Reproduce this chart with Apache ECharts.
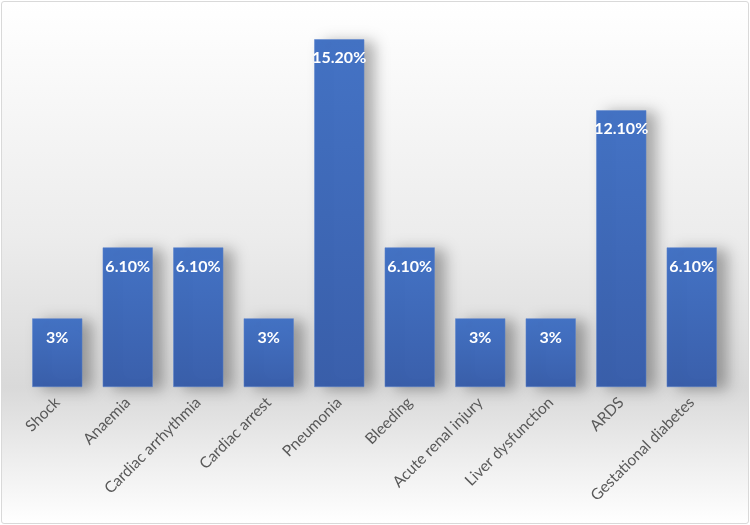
<!DOCTYPE html>
<html>
<head>
<meta charset="utf-8">
<script src="https://cdn.jsdelivr.net/npm/echarts@6/dist/echarts.min.js"></script>
<style>
  html, body { margin: 0; padding: 0; background: #fff; }
  #chart {
    position: absolute; left: 1px; top: 1px; width: 746px; height: 521px;
    border: 1px solid #d9d9d9; border-radius: 3px;
    background: linear-gradient(to bottom, #ffffff 0%, #ececec 45%, #d9d9d9 74%, #eeeeee 88%, #ffffff 100%);
  }
</style>
</head>
<body>
<div id="chart"></div>
<script>
const categories = ['Shock', 'Anaemia', 'Cardiac arrhythmia', 'Cardiac arrest', 'Pneumonia',
  'Bleeding', 'Acute renal injury', 'Liver dysfunction', 'ARDS', 'Gestational diabetes'];
const values = [3, 6.1, 6.1, 3, 15.2, 6.1, 3, 3, 12.1, 6.1];
const valueLabels = ['3%', '6.10%', '6.10%', '3%', '15.20%', '6.10%', '3%', '3%', '12.10%', '6.10%'];

const chart = echarts.init(document.getElementById('chart'));
chart.setOption({
  animation: false,
  grid: { left: 20, right: 21, top: 19, bottom: 136 },
  xAxis: {
    type: 'category',
    data: categories,
    axisLine: { show: false },
    axisTick: { show: false },
    axisLabel: {
      rotate: 45, interval: 0, margin: 13,
      color: '#595959', fontFamily: 'Lato', fontSize: 15.5
    }
  },
  yAxis: {
    type: 'value', min: 0, max: 16,
    show: false,
    splitLine: { show: false }
  },
  series: [{
    type: 'bar',
    data: values,
    barCategoryGap: '29%',
    itemStyle: {
      color: new echarts.graphic.LinearGradient(0, 0, 0, 1, [
        { offset: 0, color: '#4473c5' },
        { offset: 1, color: '#3a5fab' }
      ]),
      borderColor: '#5b82cc', borderWidth: 0.5,
      shadowColor: 'rgba(0,0,0,0.32)', shadowBlur: 14, shadowOffsetX: 10, shadowOffsetY: 2
    },
    label: {
      show: true, position: 'insideTop', distance: 11,
      color: '#fff', fontFamily: 'Lato', fontWeight: 'bold', fontSize: 16,
      formatter: p => valueLabels[p.dataIndex]
    }
  }]
});
</script>
</body>
</html>
